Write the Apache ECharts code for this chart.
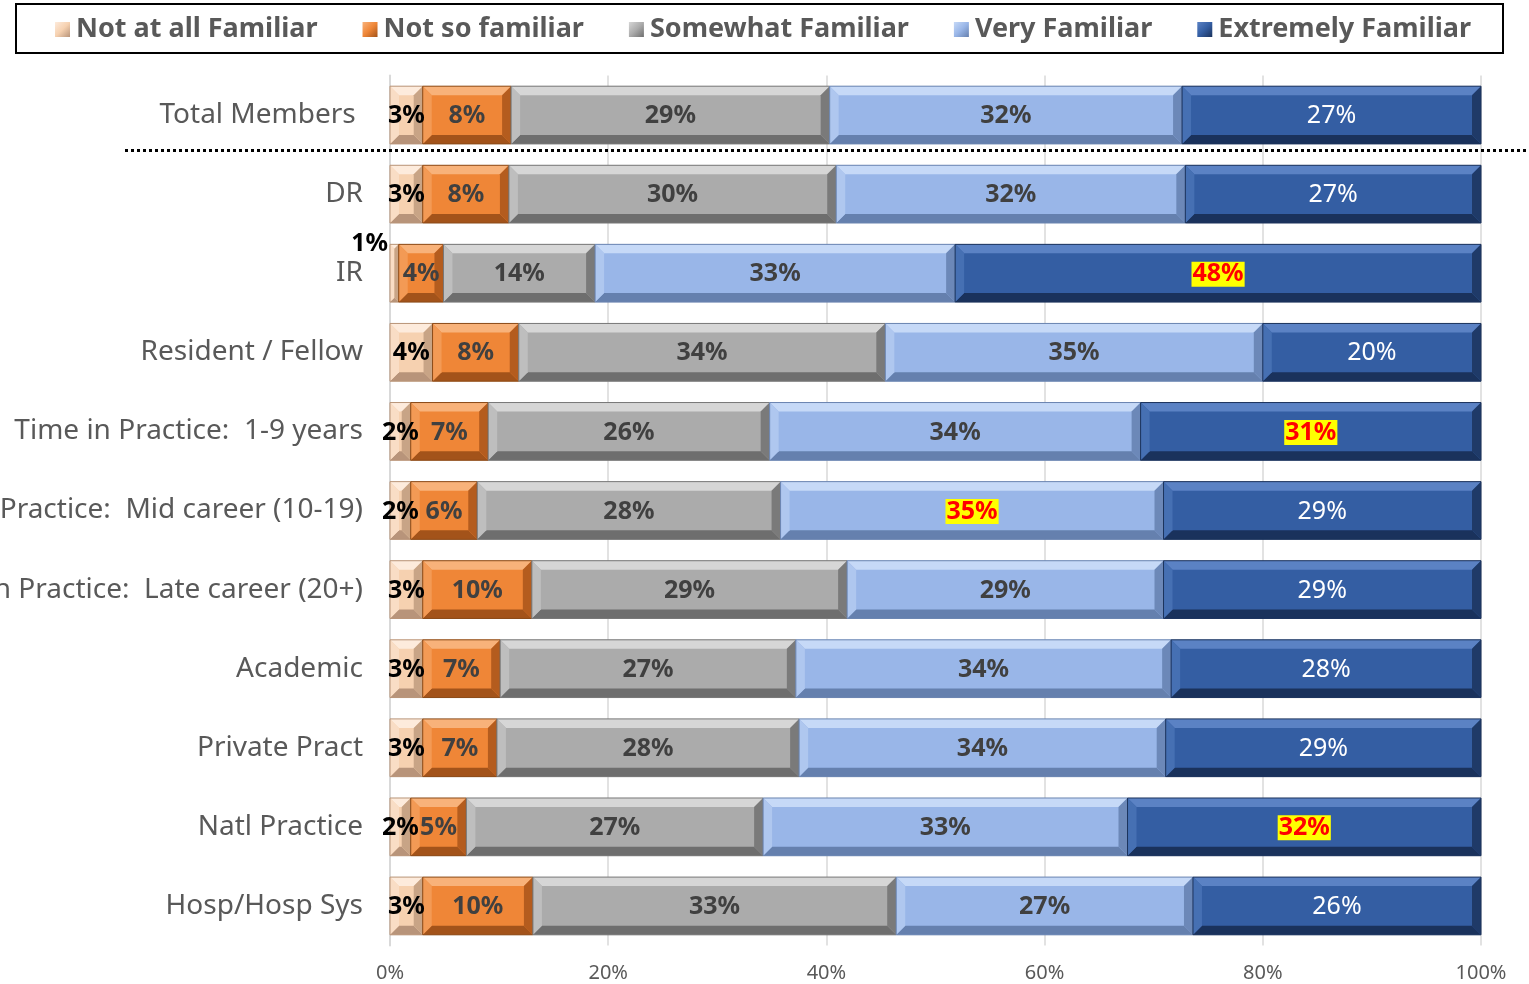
<!DOCTYPE html>
<html>
<head>
<meta charset="utf-8">
<script src="https://cdn.jsdelivr.net/npm/echarts@6/dist/echarts.min.js"></script>
<style>
html,body{margin:0;padding:0;background:#fff;}
#chart{width:1529px;height:984px;}
</style>
</head>
<body>
<div id="chart"></div>
<script>
// ---- data ----
var categories = [
  "Total Members ",
  "DR",
  "IR",
  "Resident / Fellow",
  "Time in Practice:  1-9 years",
  "Time in Practice:  Mid career (10-19)",
  "Time in Practice:  Late career (20+)",
  "Academic",
  "Private Pract",
  "Natl Practice",
  "Hosp/Hosp Sys"
];
var seriesNames = ["Not at all Familiar", "Not so familiar", "Somewhat Familiar", "Very Familiar", "Extremely Familiar"];
var notAtAll   = [3.0, 3.0, 0.8, 3.9, 1.9, 1.9, 3.0, 3.0, 3.0, 1.9, 3.0];
var notSo      = [8.1, 7.9, 4.1, 7.9, 7.1, 6.1, 10.0, 7.1, 6.8, 5.1, 10.1];
var somewhat   = [29.2, 30.0, 13.9, 33.6, 25.8, 27.8, 28.9, 27.1, 27.7, 27.2, 33.3];
var very       = [32.3, 32.0, 33.0, 34.6, 34.0, 35.1, 29.0, 34.4, 33.6, 33.4, 27.2];
var extremely  = [27.4, 27.1, 48.2, 20.0, 31.2, 29.1, 29.1, 28.4, 28.9, 32.4, 26.4];
var xTicks = [0, 20, 40, 60, 80, 100];
// highlighted labels: [seriesIndex, categoryIndex]
var highlights = [[4, 2], [4, 4], [3, 5], [4, 9]];

var allValues = [notAtAll, notSo, somewhat, very, extremely];

// ---- styles ----
var palettes = [
  {main:'#F6D1B0', top:'#FDEBDC', left:'#F9DDC5', right:'#C8A486', bottom:'#B8947A', edge:'#B89478'},
  {main:'#EF8637', top:'#F8B27A', left:'#F39A55', right:'#B45C1E', bottom:'#A3531A', edge:'#8A4A18'},
  {main:'#ABABAB', top:'#D6D6D6', left:'#BEBEBE', right:'#7A7A7A', bottom:'#6E6E6E', edge:'#777777'},
  {main:'#99B6E8', top:'#C6D9F7', left:'#AFC7EF', right:'#6C88B8', bottom:'#6580AE', edge:'#6A84B0'},
  {main:'#345EA3', top:'#5B82C4', left:'#4670B3', right:'#1F3A68', bottom:'#1A325C', edge:'#1C335C'}
];
var labelColors = ['#000000', '#404040', '#404040', '#404040', '#FFFFFF'];
var labelWeights = ['bold', 'bold', 'bold', 'bold', 'normal'];
var FONT = "'Noto Sans', sans-serif";

function isHighlighted(si, ci) {
  for (var k = 0; k < highlights.length; k++) {
    if (highlights[k][0] === si && highlights[k][1] === ci) return true;
  }
  return false;
}

function legendIcon(pal) {
  return {
    type: 'linear', x: 0, y: 0, x2: 1, y2: 1,
    colorStops: [{offset: 0, color: pal.top}, {offset: 0.5, color: pal.main}, {offset: 1, color: pal.bottom}]
  };
}

function renderItem(params, api) {
  var si = params.seriesIndex;
  var s = api.value(0), e = api.value(1), ci = api.value(2), v = api.value(3);
  var p0 = api.coord([s, ci]), p1 = api.coord([e, ci]);
  var h = api.size([0, 1])[1] * 0.73;
  var x0 = p0[0], x1 = p1[0], yc = p0[1];
  var y0 = yc - h / 2, y1 = yc + h / 2;
  var w = x1 - x0;
  var b = Math.min(9, w / 2, h / 2);
  var pal = palettes[si];
  var children = [
    {type:'rect', shape:{x:x0, y:y0, width:w, height:h}, style:{fill:pal.main}},
    {type:'polygon', shape:{points:[[x0,y0],[x1,y0],[x1-b,y0+b],[x0+b,y0+b]]}, style:{fill:pal.top}},
    {type:'polygon', shape:{points:[[x0,y1],[x1,y1],[x1-b,y1-b],[x0+b,y1-b]]}, style:{fill:pal.bottom}},
    {type:'polygon', shape:{points:[[x0,y0],[x0+b,y0+b],[x0+b,y1-b],[x0,y1]]}, style:{fill:pal.left}},
    {type:'polygon', shape:{points:[[x1,y0],[x1-b,y0+b],[x1-b,y1-b],[x1,y1]]}, style:{fill:pal.right}},
    {type:'rect', shape:{x:x0, y:y0, width:w, height:h}, style:{fill:null, stroke:pal.edge, lineWidth:1}}
  ];
  var hl = isHighlighted(si, ci);
  var txt = Math.round(v) + '%';
  var small = w < 12;
  var ts = {
    text: txt,
    x: small ? x0 - 2 : (x0 + x1) / 2,
    y: small ? y0 : yc + 1,
    align: small ? 'right' : 'center',
    verticalAlign: 'middle',
    font: (hl ? 'bold' : labelWeights[si]) + ' 25px ' + FONT,
    fill: hl ? '#FF0000' : labelColors[si]
  };
  if (hl) {
    ts.backgroundColor = '#FFFF00';
    ts.padding = [0, 1, 0, 1];
  }
  children.push({type:'text', z2:100, style:ts});
  return {type:'group', children:children};
}

var series = [];
for (var si = 0; si < seriesNames.length; si++) {
  var data = [];
  for (var ci = 0; ci < categories.length; ci++) {
    var start = 0;
    for (var k = 0; k < si; k++) start += allValues[k][ci];
    data.push([start, start + allValues[si][ci], ci, allValues[si][ci]]);
  }
  series.push({
    type: 'custom',
    name: seriesNames[si],
    renderItem: renderItem,
    itemStyle: {color: legendIcon(palettes[si])},
    encode: {x: [0, 1], y: 2},
    data: data,
    z: 2
  });
}

var chart = echarts.init(document.getElementById('chart'), null, {renderer: 'canvas'});
var option = {
  backgroundColor: '#ffffff',
  animation: false,
  textStyle: {fontFamily: FONT},
  legend: {
    data: seriesNames,
    top: 11,
    left: 50,
    icon: 'rect',
    itemWidth: 15,
    itemHeight: 15,
    itemGap: 45,
    textStyle: {fontFamily: FONT, fontSize: 27, fontWeight: 'bold', color: '#595959', padding: [0, 0, 0, 1]}
  },
  grid: {left: 390, right: 48, top: 75.5, bottom: 38.5, containLabel: false, outerBoundsMode: 'none'},
  xAxis: {
    type: 'value',
    min: xTicks[0],
    max: xTicks[xTicks.length - 1],
    interval: xTicks[1] - xTicks[0],
    axisLine: {show: false},
    axisTick: {show: false},
    axisLabel: {formatter: '{value}%', fontSize: 20, color: '#595959', margin: 18, fontFamily: FONT},
    splitLine: {show: true, lineStyle: {color: '#D9D9D9', width: 1.5}}
  },
  yAxis: {
    type: 'category',
    inverse: true,
    data: categories,
    axisLine: {show: true, lineStyle: {color: '#D9D9D9', width: 2}},
    axisTick: {show: false},
    axisLabel: {fontSize: 28, color: '#595959', margin: 27, fontFamily: FONT}
  },
  series: series,
  graphic: [
    {type:'rect', shape:{x:16, y:4, width:1487, height:49}, style:{fill:null, stroke:'#000', lineWidth:2}, z:100}
  ]
};
chart.setOption(option);

var ya = chart.convertToPixel({yAxisIndex: 0}, categories[0]);
var yb = chart.convertToPixel({yAxisIndex: 0}, categories[1]);
var ySep = Math.round((ya + yb) / 2) - 5 + 0.5;
chart.setOption({
  graphic: [
    {type:'rect', shape:{x:16, y:4, width:1487, height:49}, style:{fill:null, stroke:'#000', lineWidth:2}, z:100},
    {type:'line', shape:{x1:125, y1:ySep, x2:1529, y2:ySep}, style:{stroke:'#000', lineWidth:3, lineDash:[3, 3]}, z:100}
  ]
});
</script>
</body>
</html>
